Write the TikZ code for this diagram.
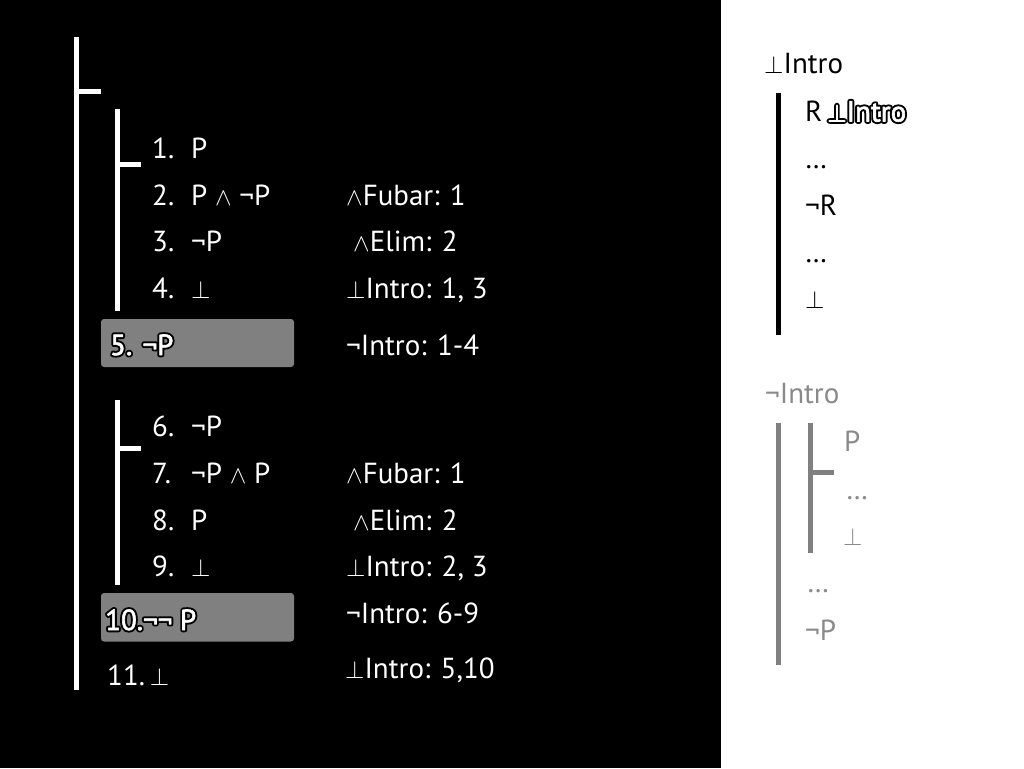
\documentclass[tikz,border=0pt]{standalone}
\usepackage{fontspec}
\setmainfont{PT Sans}
\newcommand\szA{\fontsize{29}{33}\selectfont}
\newcommand\AND{{\fontsize{24}{24}\selectfont$\wedge$}}
\newcommand\BOT{\ensuremath{\bot}}
\newcommand\halotext[1]{%
  \rlap{\color{black}\special{pdf:literal direct 1 j 1 J 4.5 w 2 Tr}#1\special{pdf:literal direct 0 Tr 0 j 0 J 0.4 w}}%
  {\color{white}\special{pdf:literal direct 1 j 0.6 w 2 Tr}#1\special{pdf:literal direct 0 Tr 0 j 0.4 w}}}
\definecolor{boxgray}{HTML}{808080}
\definecolor{ltgray}{HTML}{8A8A8A}
\tikzset{
  wt/.style={anchor=base west, inner sep=0pt, text=white, font=\szA},
  bt/.style={anchor=base west, inner sep=0pt, text=black, font=\szA},
  gt/.style={anchor=base west, inner sep=0pt, text=ltgray, font=\szA},
  wbar/.style={line width=5pt, white},
  bbar/.style={line width=5pt, black},
  gbar/.style={line width=5pt, boxgray},
  hbox/.style={fill=boxgray, rounded corners=3pt}
}
\begin{document}
\begin{tikzpicture}[x=1pt,y=-1pt]
\useasboundingbox (0,0) rectangle (1024,768);
\fill[black] (0,0) rectangle (721,768);
\fill[white] (721,0) rectangle (1024,768);
% ---------- left proof bars
\draw[wbar] (76.5,37) -- (76.5,690);
\draw[wbar] (76.5,91.5) -- (101,91.5);
\draw[wbar] (117,109) -- (117,311);
\draw[wbar] (117,164) -- (141,164);
\draw[wbar] (117,400) -- (117,585);
\draw[wbar] (117,448) -- (141,448);
% ---------- highlight boxes
\fill[hbox] (101,319) rectangle (294,367);
\fill[hbox] (101,593) rectangle (294,641.5);
% ---------- subproof 1
\node[wt] (n1) at (152,158) {1.};
\node[wt] (f1) at (191,158) {P};
\node[wt] (n2) at (152,205) {2.};
\node[wt] (f2) at (191,205) {P \AND{} ¬P};
\node[wt] (j2) at (346,205) {\AND Fubar: 1};
\node[wt] (n3) at (152,251.5) {3.};
\node[wt] (f3) at (191,251.5) {¬P};
\node[wt] (j3) at (353,251.5) {\AND Elim: 2};
\node[wt] (n4) at (152,298) {4.};
\node[wt] (f4) at (191,298) {\BOT};
\node[wt] (j4) at (346,298) {\BOT Intro: 1, 3};
\node[wt] (f5) at (110,355) {\halotext{5. ¬P}};
\node[wt] (j5) at (346,355) {¬Intro: 1-4};
% ---------- subproof 2
\node[wt] (n6) at (152,436.5) {6.};
\node[wt] (f6) at (191,436.5) {¬P};
\node[wt] (n7) at (152,483) {7.};
\node[wt] (f7) at (191,483) {¬P \AND{} P};
\node[wt] (j7) at (346,483) {\AND Fubar: 1};
\node[wt] (n8) at (152,530) {8.};
\node[wt] (f8) at (191,530) {P};
\node[wt] (j8) at (353,530) {\AND Elim: 2};
\node[wt] (n9) at (152,576.5) {9.};
\node[wt] (f9) at (191,576.5) {\BOT};
\node[wt] (j9) at (346,576.5) {\BOT Intro: 2, 3};
\node[wt] (f10) at (105,630) {\halotext{10.¬¬ P}};
\node[wt] (j10) at (346,623) {¬Intro: 6-9};
\node[wt] (f11) at (107,685) {11.\,\BOT};
\node[wt] (j11) at (345,678) {\BOT Intro: 5,10};
% ---------- right panel: bot intro
\node[bt] (r0) at (764,73) {\BOT Intro};
\draw[bbar] (778,93) -- (778,335);
\node[bt] (r1) at (805,121.5) {R\,\halotext{\BOT Intro}};
\node[bt] (r2) at (805,168) {…};
\node[bt] (r3) at (805,215) {¬R};
\node[bt] (r4) at (805,262) {…};
\node[bt] (r5) at (805,308) {\BOT};
% ---------- right panel: neg intro
\node[gt] (g0) at (765,403) {¬Intro};
\draw[gbar] (778,423) -- (778,665);
\draw[gbar] (810.5,423) -- (810.5,553);
\draw[gbar] (810.5,472.5) -- (834,472.5);
\node[gt] (g1) at (844,451.5) {P};
\node[gt] (g2) at (846,499) {…};
\node[gt] (g3) at (843,545) {\BOT};
\node[gt] (g4) at (807,592) {…};
\node[gt] (g5) at (805,640) {¬P};
\end{tikzpicture}
\end{document}
